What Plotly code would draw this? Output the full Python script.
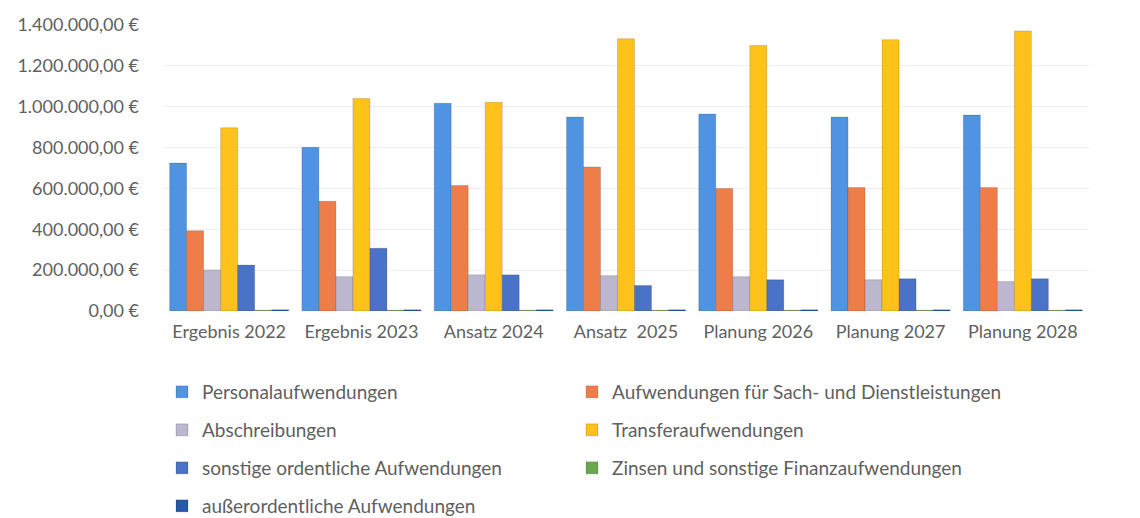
import plotly.graph_objects as go

categories = ["Ergebnis 2022", "Ergebnis 2023", "Ansatz 2024", "Ansatz  2025",
              "Planung 2026", "Planung 2027", "Planung 2028"]

personal = [724000, 801000, 1017000, 950000, 964000, 950000, 959000]
sach = [393000, 537000, 614000, 705000, 600000, 604000, 604000]
abschreibungen = [201000, 168000, 177000, 173000, 168000, 153000, 144000]
transfer = [897000, 1040000, 1022000, 1333000, 1300000, 1328000, 1371000]
sonstige = [225000, 307000, 177000, 125000, 153000, 158000, 158000]
zinsen = [4000, 4000, 4000, 4000, 4000, 4000, 4000]
ausserord = [6000, 6000, 6000, 6000, 6000, 6000, 6000]

series = [
    ("Personalaufwendungen", personal, "#4F94E2"),
    ("Aufwendungen für Sach- und Dienstleistungen", sach, "#EF7D4A"),
    ("Abschreibungen", abschreibungen, "#BDB6CF"),
    ("Transferaufwendungen", transfer, "#FFC21A"),
    ("sonstige ordentliche Aufwendungen", sonstige, "#4A72C6"),
    ("Zinsen und sonstige Finanzaufwendungen", zinsen, "#6AA84F"),
    ("außerordentliche Aufwendungen", ausserord, "#2558A8"),
]

# legend slots: (column left px, row center px)
col_x = [162, 572]
row_y = [392, 430, 468, 506]

fig = go.Figure()
legend_layout = {}
for i, (name, vals, col) in enumerate(series):
    key = "legend" if i == 0 else f"legend{i + 1}"
    fig.add_trace(go.Bar(
        name=name, x=categories, y=vals, legend=key,
        marker=dict(color=col, line=dict(color="rgba(0,0,0,0.15)", width=1)),
    ))
    cx = col_x[i % 2]
    cy = row_y[i // 2]
    legend_layout[key] = dict(
        xref="container", yref="container",
        x=cx / 1140, y=1 - cy / 518, xanchor="left", yanchor="middle",
        orientation="h", bgcolor="rgba(0,0,0,0)",
        font=dict(family="Lato, sans-serif", size=19, color="#5F5F5F"),
    )

fig.update_layout(
    width=1140, height=518,
    barmode="group", bargap=0.1, bargroupgap=0.0,
    separators=",.",
    paper_bgcolor="white", plot_bgcolor="white",
    font=dict(family="Lato, sans-serif", size=18, color="#5F5F5F"),
    margin=dict(l=163, r=51, t=25, b=207),
    xaxis=dict(showgrid=False, showline=False, ticks="", automargin=False,
               tickfont=dict(size=18), ticklabelstandoff=8),
    yaxis=dict(range=[0, 1400000], dtick=200000, tickformat=",.2f", ticksuffix=" €",
               showgrid=True, gridcolor="#EDEDED", zeroline=False, showline=False,
               automargin=False, tickfont=dict(size=18), ticklabelstandoff=23),
    showlegend=True,
    **legend_layout,
)

fig.write_html(
    "out.html",
    config={"displayModeBar": False},
    post_script="document.body.style.margin='0';document.body.style.overflow='hidden';",
)
